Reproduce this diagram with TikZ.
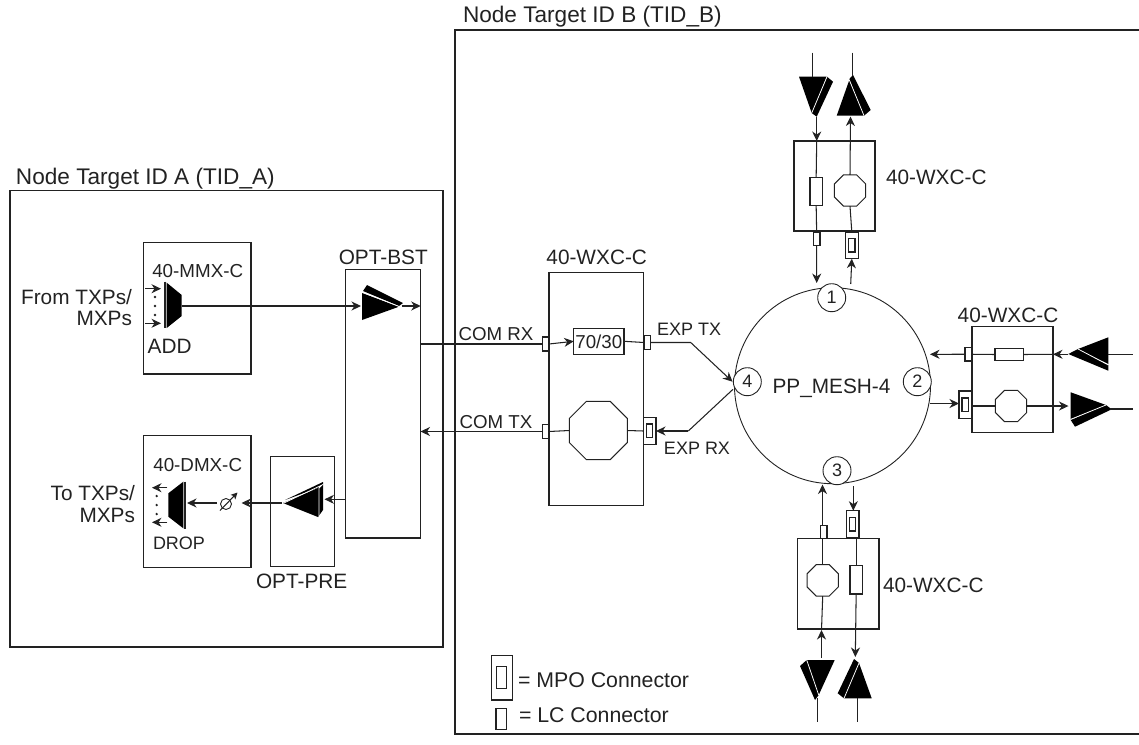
\documentclass[tikz,border=0pt]{standalone}
\usepackage{fontspec}
\setmainfont{Liberation Sans}
\usetikzlibrary{arrows.meta,shapes.geometric,calc}
\definecolor{ink}{HTML}{222222}
\tikzset{
  x=1pt,y=-1pt,
  line/.style={draw=ink,line width=1.05pt},
  heavy/.style={draw=ink,line width=1.4pt},
  flow/.style={line,-{Stealth[length=9.5pt,width=9pt,inset=3pt]}},
  lcconn/.style={draw=ink,line width=1.05pt,fill=white},
  octa/.style={regular polygon,regular polygon sides=8,draw=ink,line width=1pt,fill=white,inner sep=0pt,outer sep=0pt},
  portnum/.style={circle,draw=ink,line width=0.9pt,fill=white,minimum size=28pt,inner sep=0pt,font=\fontsize{18}{18}\selectfont,text=ink},
  big/.style={inner sep=0pt,outer sep=0pt,text=ink,font=\fontsize{20.8}{20.8}\selectfont,text height=14.9pt,text depth=0pt},
  ttl/.style={inner sep=0pt,outer sep=0pt,text=ink,font=\fontsize{22.6}{22.6}\selectfont,text height=16pt,text depth=0pt},
  mid/.style={inner sep=0pt,outer sep=0pt,text=ink,font=\fontsize{18.8}{18.8}\selectfont,text height=13.5pt,text depth=0pt},
  small/.style={inner sep=0pt,outer sep=0pt,text=ink,font=\fontsize{18}{18}\selectfont,text height=12.9pt,text depth=0pt},
  com/.style={inner sep=0pt,outer sep=0pt,text=ink,font=\fontsize{18.7}{18.7}\selectfont,text height=13.4pt,text depth=0pt},
  legend/.style={inner sep=0pt,outer sep=0pt,text=ink,font=\fontsize{21.3}{21.3}\selectfont,text height=15.3pt,text depth=0pt},
  ampwhite/.style={draw=white,line width=0.75pt},
}
% rbox{style}{name}{x1}{y1}{x2}{y2}
\newcommand{\rbox}[6]{%
  \pgfmathsetmacro{\rw}{#5-#3}\pgfmathsetmacro{\rh}{#6-#4}%
  \pgfmathsetmacro{\rcx}{(#3+#5)/2}\pgfmathsetmacro{\rcy}{(#4+#6)/2}%
  \node[#1,minimum width=\rw pt,minimum height=\rh pt,inner sep=0pt,outer sep=0pt] (#2) at (\rcx,\rcy) {};}
% mpo{name}{x1}{y1}{x2}{y2}{ix1}{iy1}{ix2}{iy2}
\newcommand{\mpo}[9]{%
  \rbox{lcconn}{#1}{#2}{#3}{#4}{#5}%
  \rbox{lcconn}{#1i}{#6}{#7}{#8}{#9}}
% amp: triangle, bar, white line
\newcommand{\amplifier}[3]{%
  \fill[black] #1 -- cycle;
  \fill[black] #2 -- cycle;
  \draw[ampwhite] #3;}
\begin{document}
\begin{tikzpicture}
\useasboundingbox (0,0) rectangle (1139,744);
% containers
\rbox{line}{tida}{10}{190.5}{443}{647}
\coordinate (bt) at (1139,30);
\coordinate (btl) at (455,30);
\coordinate (bbl) at (455,734);
\coordinate (bb) at (1139,734);
\draw[line] (bt) -- (btl) -- (bbl) -- (bb);
\node[ttl,anchor=west] (la) at (16,176) {Node Target ID A (TID\_A)};
\node[ttl,anchor=west] (lb) at (463,14) {Node Target ID B (TID\_B)};
% TID_A cards
\rbox{heavy}{mmx}{143.5}{242.5}{251}{374}
\rbox{heavy}{dmx}{143.5}{435.7}{251}{567.3}
\rbox{line}{pre}{270.3}{456.7}{334.7}{566.7}
\rbox{line}{bst}{345.7}{269.7}{420.7}{538}
\node[mid] (tmmx) at (197.7,271) {40-MMX-C};
\node[mid] (tdmx) at (197.7,465) {40-DMX-C};
\node[big] (tbst) at (383.3,257) {OPT-BST};
\node[big] (tpre) at (301.7,581) {OPT-PRE};
\node[big,anchor=east] (f1) at (132,297) {From TXPs/};
\node[big,anchor=east] (f2) at (132,318) {MXPs};
\node[big,anchor=east] (t1) at (135,493) {To TXPs/};
\node[big,anchor=east] (t2) at (135,515) {MXPs};
\node[big,anchor=west] (tadd) at (147.7,346) {ADD};
\node[small,anchor=west] (tdrop) at (153,543) {DROP};
% mux
\coordinate (in1) at (145,288.7); \coordinate (in1e) at (161,288.7);
\coordinate (in2) at (145,323.3); \coordinate (in2e) at (161,323.3);
\coordinate (muxout) at (181.7,306);
\fill[black] (166.7,282.7) -- (181.7,295) -- (181.7,316) -- (166.7,328) -- cycle;
\draw[line] (165,281.5) -- (165,328);
\draw[flow] (in1) -- (in1e);
\draw[flow] (in2) -- (in2e);
\foreach \dy in {297,306,315} \fill[ink] (155,\dy) circle (1.3);
% demux
\coordinate (out1) at (167.3,487.7); \coordinate (out1e) at (152,487.7);
\coordinate (out2) at (167.3,522.3); \coordinate (out2e) at (152,522.3);
\coordinate (dmxin) at (187,503);
\fill[black] (183.3,481.7) -- (168.3,493.3) -- (168.3,516.7) -- (183.3,528.3) -- cycle;
\draw[line] (185,481.5) -- (185,528.5);
\draw[flow] (out1) -- (out1e);
\draw[flow] (out2) -- (out2e);
\foreach \dy in {496,505,514} \fill[ink] (156.7,\dy) circle (1.3);
% amplifiers
\amplifier{(362,293) -- (399,306.7) -- (362,320)}{(363,291) -- (367,285) -- (403,303) -- (399,306)}{(362,292) -- (399,306.5)}
\coordinate (bstin) at (361,306);
\coordinate (bstout) at (401.7,306);
\amplifier{(283,503) -- (318,488) -- (318,517)}{(285,500) -- (323,482) -- (323,510) -- (318,517) -- (318,488)}{(284,503) -- (322,485) -- (319,488) -- (319,516)}
\coordinate (prein) at (324.5,499.3);
\coordinate (preout) at (282,503);
\amplifier{(799,76.7) -- (826.7,76.7) -- (811.7,113)}{(827,76.7) -- (833,81.7) -- (816.7,116.7) -- (811.7,113)}{(827,76.7) -- (811.5,113.5)}
\amplifier{(836.7,115.7) -- (864,115.7) -- (849.3,80)}{(849.3,79) -- (853,75) -- (870.7,110) -- (864,115.7)}{(849.3,80) -- (864,115.7)}
\amplifier{(1078,349) -- (1108.3,337.3) -- (1108.3,364)}{(1078,349) -- (1068.3,354) -- (1108.3,370.7) -- (1108.3,365)}{(1078,349) -- (1108.3,365)}
\amplifier{(1070.7,392.3) -- (1106,405) -- (1070.7,419.3)}{(1070.7,420) -- (1075,426.7) -- (1111.7,409.3) -- (1106,405)}{(1070.7,419.3) -- (1106,405)}
\amplifier{(806.7,660) -- (834.7,660) -- (818.7,695)}{(806.7,660) -- (800,666) -- (815,700) -- (818.7,695)}{(806.7,660) -- (818.7,695)}
\amplifier{(871.7,698.3) -- (844,698.3) -- (859,663)}{(859,663) -- (854,659) -- (837.7,693.3) -- (844,698.3)}{(859,663) -- (844,698.3)}
% central WXC
\rbox{line}{wxc}{549}{272.3}{643.3}{505.3}
\node[big] (twxc) at (596.7,257) {40-WXC-C};
\rbox{line}{split}{573.7}{328.3}{624}{354.3}
\node[com] (t7030) at (598.8,341.5) {70/30};
\node[com] (tcomrx) at (496,334) {COM RX};
\node[com] (tcomtx) at (496,421.7) {COM TX};
\node[small] (texptx) at (689,329) {EXP TX};
\node[small] (texprx) at (697,448) {EXP RX};
\node[octa,minimum size=62.8pt] (o4) at (598.3,430.5) {};
\coordinate (bsta) at (421,344);
\coordinate (bstb) at (420.5,431.5);
\rbox{lcconn}{lcra}{542.3}{337}{549}{351}
\rbox{lcconn}{lcrb}{644}{335.5}{650.3}{349.5}
\rbox{lcconn}{lcta}{542.3}{424.5}{549}{438.5}
\mpo{mpo4}{643.3}{417.5}{656}{444.5}{646.5}{424}{652.8}{437.8}
\coordinate (exta) at (690.7,342.5);
\coordinate (exrb) at (688.3,431);
% PP_MESH
\node[circle,draw=ink,line width=0.9pt,minimum size=196pt,inner sep=0pt,outer sep=0pt] (pp) at (832.5,385.7) {};
\node[big] (tpp) at (831.5,386) {PP\_MESH-4};
\node[portnum] (p1) at (831.7,297.7) {1};
\node[portnum] (p2) at (917.3,381.7) {2};
\node[portnum] (p3) at (837,470.7) {3};
\node[portnum] (p4) at (747.3,381.7) {4};
\coordinate (p4in) at (732.5,381.7);
\coordinate (p4out) at (733,389.3);
% connectors centre
\draw[line] (bsta) -- (lcra.west);
\draw[flow] (lcra.east) -- (split.west);
\draw[line] (split.east) -- (lcrb.west);
\draw[flow] (lcrb.east) -- (exta) -- (p4in);
\draw[line] (p4out) -- (exrb);
\draw[flow] (exrb) -- (mpo4.east);
\draw[line] (mpo4.west) -- (o4.east);
\draw[line] (o4.west) -- (lcta.east);
\draw[flow] (lcta.west) -- (bstb);
\draw[flow] (muxout) -- (bstin);
\draw[flow] (bstout) -- (bst.east |- bstout);
\coordinate (bstc) at (345.7,499.3);
\draw[flow] (bstc) -- (prein);
\node[circle,draw=ink,line width=0.9pt,minimum size=11pt,inner sep=0pt] (att) at (226,504) {};
\coordinate (atta) at (220,510.5);
\coordinate (attb) at (237.5,492.5);
\draw[line,-{Stealth[length=6.5pt,width=6.5pt,inset=1.5pt]}] (atta) -- (attb);
\coordinate (attr) at (241.5,503);
\draw[flow] (preout) -- (attr);
\coordinate (attl) at (217,503);
\draw[flow] (attl) -- (dmxin);
% top WXC
\rbox{line}{wt}{794}{141}{875}{231}
\node[big,anchor=west] (twt) at (886,177) {40-WXC-C};
\rbox{lcconn}{rt}{810}{177.3}{822.3}{205.3}
\node[octa,minimum size=34pt] (ot) at (850,190.5) {};
\rbox{lcconn}{lct}{813.3}{232}{820}{245.3}
\mpo{mpot}{845.3}{232}{858.3}{258.7}{848.3}{238.5}{855}{252}
\coordinate (atl) at (816.7,116.5); \coordinate (wtl) at (816.7,141);
\coordinate (atlin) at (812.7,52.7); \coordinate (atlin2) at (812.7,77);
\coordinate (atr) at (850.5,116.5); \coordinate (atrin) at (852.7,52.7); \coordinate (atrin2) at (852.7,76);
\coordinate (p1a) at (816.7,283); \coordinate (p1b) at (850.7,284);
\draw[line] (atlin) -- (atlin2);
\draw[line] (atrin) -- (atrin2);
\draw[flow] (atl) -- (wtl);
\draw[line] (wtl) -- (rt.north);
\draw[line] (rt.south) -- (lct.north);
\draw[flow] (lct.south) -- (p1a);
\draw[flow] (p1b) -- (mpot.south);
\draw[line] (mpot.north) -- (ot.south);
\draw[flow] (ot.north) -- (atr);
% right WXC
\rbox{line}{wr}{972}{326.7}{1053}{432.7}
\node[big] (twr) at (1008,315) {40-WXC-C};
\rbox{lcconn}{rr}{995}{348.5}{1023.3}{360.5}
\rbox{lcconn}{lcr}{965}{347.5}{971.7}{361}
\node[octa,minimum size=34pt] (or) at (1011,406) {};
\mpo{mpor}{959}{391}{972}{418.3}{962}{398}{968.3}{411.3}
\coordinate (arin) at (1068,354.3);
\coordinate (arout) at (1068.5,406);
\coordinate (arl) at (1108,354.3); \coordinate (arle) at (1132.7,354.3);
\coordinate (arb) at (1110,409); \coordinate (arbe) at (1132.7,409);
\coordinate (p2a) at (930,354.3); \coordinate (p2b) at (930,403.5);
\coordinate (wrr) at (1053,354.3);
\draw[line] (arl) -- (arle);
\draw[line] (arb) -- (arbe);
\draw[flow] (arin) -- (wrr);
\draw[line] (wrr) -- (rr.east);
\draw[line] (rr.west) -- (lcr.east);
\draw[flow] (lcr.west) -- (p2a);
\draw[flow] (p2b) -- (mpor.west |- p2b);
\draw[line] (mpor.east |- or) -- (or.west);
\draw[flow] (or.east) -- (arout);
% bottom WXC
\rbox{line}{wb}{797.7}{538.7}{879}{629}
\node[big,anchor=west] (twb) at (883,585) {40-WXC-C};
\node[octa,minimum size=34pt] (ob) at (822.7,580.3) {};
\rbox{lcconn}{rb}{850}{565.7}{862.3}{594}
\rbox{lcconn}{lcb}{820.3}{525.3}{827}{538.7}
\mpo{mpob}{846.3}{510.7}{859}{538}{849.3}{517.3}{855.7}{531}
\coordinate (p3a) at (822.5,484.5);
\coordinate (p3b) at (853.3,486);
\coordinate (abl) at (821.5,658); \coordinate (wbl) at (821.5,630);
\coordinate (abr) at (855.3,657);
\coordinate (ablin) at (817.7,698); \coordinate (ablin2) at (817.7,722);
\coordinate (abrin) at (857.7,698); \coordinate (abrin2) at (857.7,722);
\draw[flow] (lcb.north -| p3a) -- (p3a);
\draw[flow] (p3b) -- (p3b |- mpob.north);
\draw[line] (rb.north) -- (mpob.south -| rb);
\draw[flow] (rb.south) -- (abr);
\draw[line] (ob.north) -- (lcb.south -| ob);
\draw[line] (ob.south) -- (wbl);
\draw[flow] (abl) -- (wbl);
\draw[line] (ablin) -- (ablin2);
\draw[line] (abrin) -- (abrin2);
% legend
\mpo{lgm}{491.3}{655.7}{512.3}{700}{496.7}{666.7}{506.7}{688.3}
\rbox{lcconn}{lgl}{496}{708.3}{506.3}{729.3}
\node[legend,anchor=west] (tlgm) at (518,680) {= MPO Connector};
\node[legend,anchor=west] (tlgl) at (519,715) {= LC Connector};
\end{tikzpicture}
\end{document}
